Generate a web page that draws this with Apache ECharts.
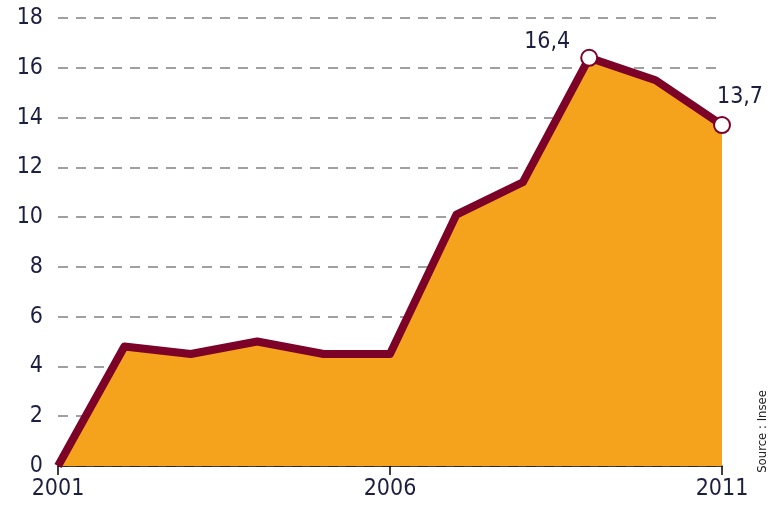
<!DOCTYPE html>
<html>
<head>
<meta charset="utf-8">
<script src="https://cdn.jsdelivr.net/npm/echarts@6/dist/echarts.min.js"></script>
<style>
html, body { margin: 0; padding: 0; background: #fff; }
#chart { width: 774px; height: 508px; }
</style>
</head>
<body>
<div id="chart"></div>
<script>
var years = ["2001", "2002", "2003", "2004", "2005", "2006", "2007", "2008", "2009", "2010", "2011"];
var values = [0, 4.8, 4.5, 5.0, 4.5, 4.5, 10.1, 11.4, 16.4, 15.5, 13.7];
var labelled = [8, 10];   // points with a value label
var labelOffsets = { 8: [-42, 10], 10: [18, -2] };

var font = "'DejaVu Sans Condensed', 'Liberation Sans Narrow', sans-serif";

var chart = echarts.init(document.getElementById("chart"));

var seriesData = values.map(function (v, i) {
    if (labelled.indexOf(i) < 0) {
        return { value: v, symbol: "none" };
    }
    return {
        value: v,
        symbol: "circle",
        symbolSize: 16,
        label: {
            show: true,
            position: "top",
            offset: labelOffsets[i],
            formatter: String(v).replace(".", ",")
        }
    };
});

var option = {
    animation: false,
    grid: { left: 58, right: 52, top: 18, bottom: 42 },
    xAxis: {
        type: "category",
        data: years,
        boundaryGap: false,
        axisLine: { lineStyle: { color: "#000", width: 1.5 } },
        axisTick: { interval: 4, length: 9, lineStyle: { color: "#000", width: 1.5 } },
        axisLabel: { interval: 4, color: "#1b2040", fontFamily: font, fontSize: 23, margin: 12 },
        splitLine: { show: false }
    },
    yAxis: {
        type: "value",
        min: 0,
        max: 18,
        interval: 2,
        axisLine: { show: false },
        axisTick: { show: false },
        axisLabel: { color: "#1b2040", fontFamily: font, fontSize: 23, margin: 15 },
        splitLine: { lineStyle: { color: "#a0a0a0", width: 2, type: [10, 8] } }
    },
    series: [{
        type: "line",
        data: seriesData,
        lineStyle: { color: "#7d0228", width: 8, join: "round" },
        itemStyle: { color: "#fff", borderColor: "#7d0228", borderWidth: 2 },
        areaStyle: { color: "#f5a31d", opacity: 1 },
        label: { color: "#1b2040", fontFamily: font, fontSize: 23 },
        z: 3
    }],
    graphic: [{
        type: "text",
        left: 756,
        top: 390,
        rotation: Math.PI / 2,
        style: { text: "Source : Insee", fill: "#222", font: "13px " + font }
    }]
};

chart.setOption(option);
</script>
</body>
</html>
